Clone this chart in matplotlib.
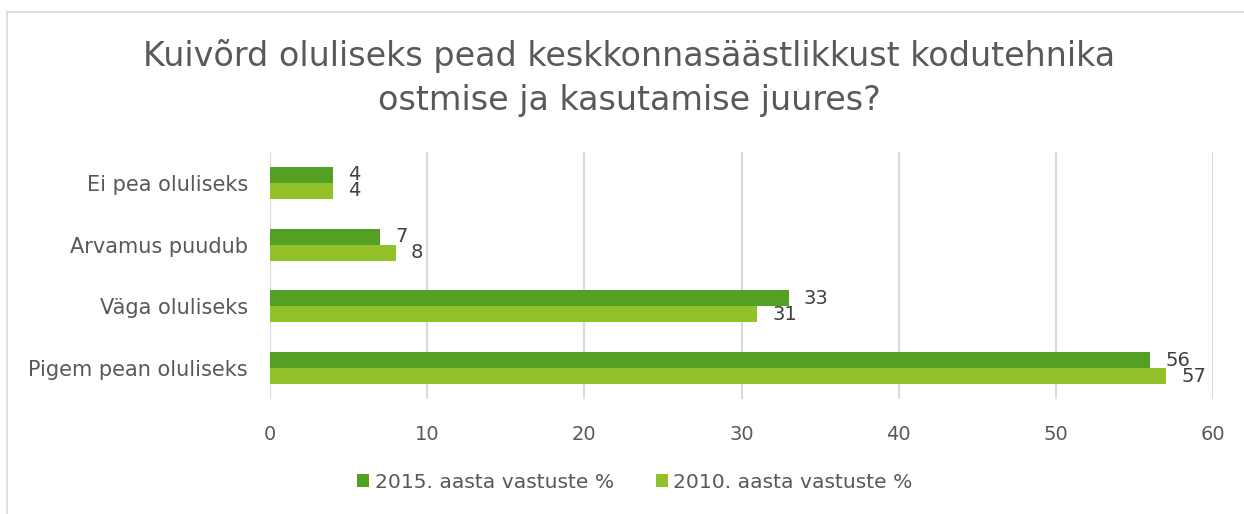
import matplotlib
matplotlib.use('Agg')
import matplotlib.pyplot as plt
from matplotlib.patches import Rectangle
import numpy as np

# survey answers, bottom to top as drawn
categories = ['Pigem pean oluliseks', 'Väga oluliseks', 'Arvamus puudub', 'Ei pea oluliseks']
values_2015 = [56, 33, 7, 4]
values_2010 = [57, 31, 8, 4]
series_names = ['2015. aasta vastuste %', '2010. aasta vastuste %']
x_ticks = [0, 10, 20, 30, 40, 50, 60]

dark_green = '#53A024'
light_green = '#92C12A'
text_grey = '#595959'

plt.rcParams['font.family'] = ['DejaVu Sans']

fig = plt.figure(figsize=(12.44, 5.14), dpi=100)
ax = fig.add_axes([270 / 1244, 1 - 399 / 514, (1213 - 270) / 1244, (399 - 152) / 514])

y = np.arange(len(categories))
h = 0.258
b1 = ax.barh(y + h / 2, values_2015, height=h, color=dark_green, label=series_names[0], zorder=3)
b2 = ax.barh(y - h / 2, values_2010, height=h, color=light_green, label=series_names[1], zorder=3)

for bars in (b1, b2):
    for bar in bars:
        w = bar.get_width()
        ax.annotate(str(int(w)), (w, bar.get_y() + bar.get_height() / 2),
                    xytext=(11, 0), textcoords='offset points',
                    ha='left', va='center', fontsize=14, color='#404040')

ax.set_xlim(0, 60)
ax.set_ylim(-0.5, 3.5)
ax.set_xticks(x_ticks)
ax.set_yticks(y)
ax.set_yticklabels(categories)
ax.tick_params(axis='x', length=0, labelsize=14, colors=text_grey, pad=19)
ax.tick_params(axis='y', length=0, labelsize=15, colors=text_grey, pad=16)
ax.grid(axis='x', color='#D9D9D9', linewidth=1.5, zorder=0)
for s in ax.spines.values():
    s.set_visible(False)

fig.text(0.506, 1 - 78 / 514, 'Kuivõrd oluliseks pead keskkonnasäästlikkust kodutehnika\nostmise ja kasutamise juures?',
         ha='center', va='center', fontsize=24, color=text_grey, linespacing=1.4)

fig.legend(handles=[b1, b2], labels=series_names, loc='center', bbox_to_anchor=(0.5105, 1 - 482 / 514),
           ncol=2, frameon=False, fontsize=14.6, labelcolor=text_grey,
           handlelength=0.6, handleheight=0.6, handletextpad=0.25, columnspacing=2.1)

# light chart border
fig.patches.append(Rectangle((7 / 1244, -0.01), 1.0, 1 - 12 / 514 + 0.01, transform=fig.transFigure,
                             fill=False, edgecolor='#D9D9D9', linewidth=1.2))

fig.savefig('out.png', dpi=100)
